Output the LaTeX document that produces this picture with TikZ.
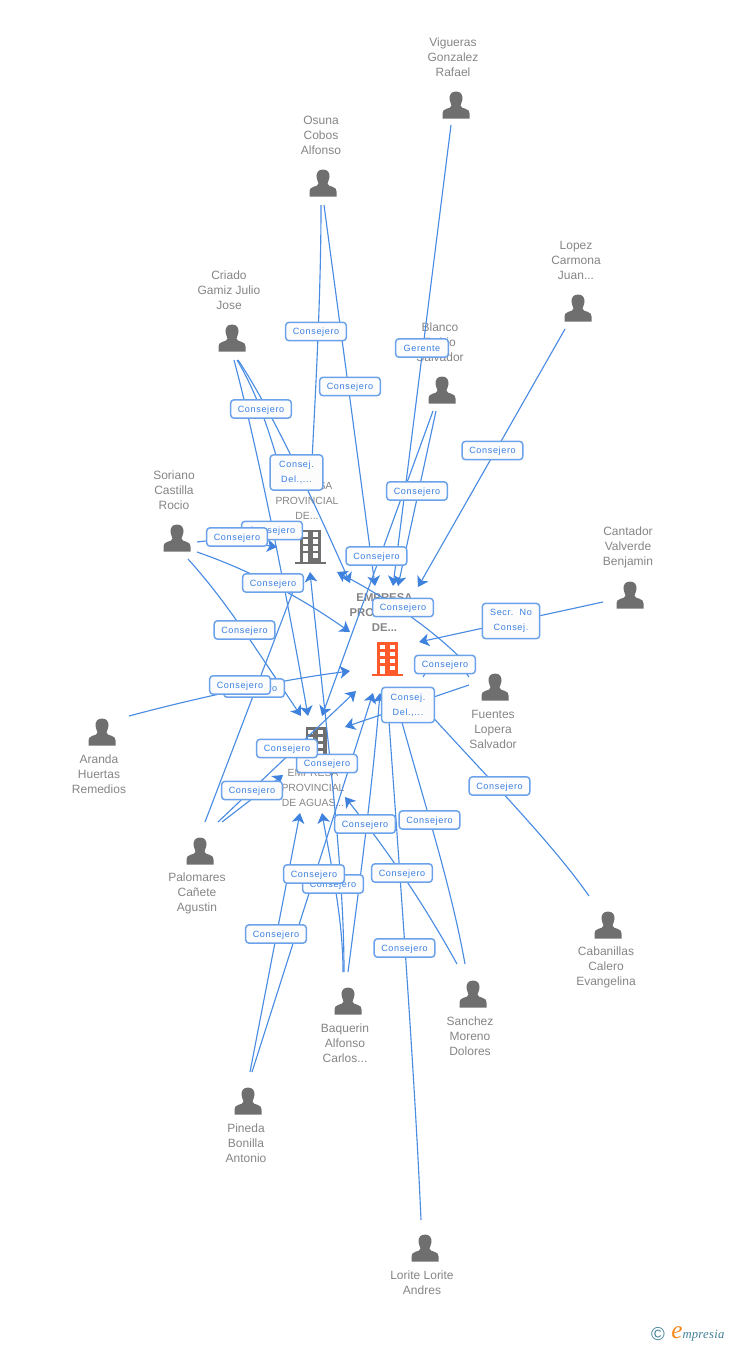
\documentclass[tikz,border=0pt]{standalone}
\usepackage{fontspec}
\setmainfont{Liberation Sans}
\newfontfamily\tagfont[LetterSpace=7]{Liberation Sans}
\newfontfamily\logofont[LetterSpace=2]{Liberation Serif}
\usetikzlibrary{arrows.meta}
\definecolor{nameGrey}{HTML}{858585}
\definecolor{iconGrey}{HTML}{6f6f6f}
\definecolor{towerOrange}{HTML}{ff5a2c}
\definecolor{linkBlue}{HTML}{4a8ce2}
\definecolor{tipBlue}{HTML}{3f82de}
\definecolor{tagEdge}{HTML}{6ba2ea}
\definecolor{tagText}{HTML}{3b80e0}
\definecolor{tagFill}{HTML}{fcfcfd}
\definecolor{logoTeal}{HTML}{3f7f96}
\definecolor{logoOrange}{HTML}{f58a1f}

\begin{document}
\begin{tikzpicture}[
    x=0.75pt, y=-0.75pt,
    every node/.style={font=\fontsize{9}{11.25}\selectfont},
    pname/.style={color=nameGrey, align=center, inner sep=0pt},
    fname/.style={pname, font=\fontsize{7.8}{11.25}\selectfont},
    cname/.style={pname, font=\fontsize{8.5}{11.25}\selectfont\bfseries},
    link/.style={draw=linkBlue, line width=0.85pt,
                 -{Stealth[length=7.5pt,width=9.5pt,inset=2pt,color=tipBlue]}},
    plainlink/.style={draw=linkBlue, line width=0.85pt},
    tag/.style={draw=tagEdge, line width=1.1pt, fill=tagFill, rounded corners=2.5pt,
                text=tagText, font=\fontsize{6.8}{11.25}\selectfont\tagfont,
                align=center, inner sep=0pt, minimum width=45.5pt, minimum height=13.8pt,
                text height=6.3pt, text depth=1.3pt},
    tagwide/.style={tag, text height=, text depth=,
                    minimum width=39.5pt, minimum height=26.5pt},
    man/.pic={
      \fill[iconGrey] (0,-13.5) .. controls (4.8,-13.5) and (6.8,-10) .. (6.5,-6)
        .. controls (6.3,-3) and (4.8,-1.5) .. (4.5,0.5)
        .. controls (4.5,2.5) and (7,3) .. (9.5,3.8)
        .. controls (12.5,4.8) and (13.5,6) .. (13.5,8.5) -- (13.5,13.5) -- (-13.5,13.5) -- (-13.5,8.5)
        .. controls (-13.5,6) and (-12.5,4.8) .. (-9.5,3.8)
        .. controls (-7,3) and (-4.5,2.5) .. (-4.5,0.5)
        .. controls (-4.8,-1.5) and (-6.3,-3) .. (-6.5,-6)
        .. controls (-6.8,-10) and (-4.8,-13.5) .. (0,-13.5) -- cycle;
    },
    tower/.pic={
      \path[pic actions] (-10.5,-17) rectangle (10.5,15);
      \path[pic actions] (-15.5,15) rectangle (15.5,17);
      \foreach \wy in {-12,-5,2,9}{
        \fill[white] (2,\wy-2.2) rectangle (7,\wy+2.2);
      }
      \foreach \wy in {-12,-5,2}{
        \fill[white] (-8,\wy-2.2) rectangle (-3,\wy+2.2);
      }
      \fill[white] (-8,6.5) rectangle (-3,15);
    },
    ]

\path[use as bounding box] (0,0) rectangle (728,1345);

% ====================================================================
% Names
% ====================================================================
\node[pname] (vigueras) at (453,57) {Vigueras\\Gonzalez\\Rafael};
\node[pname] (osuna) at (321,135) {Osuna\\Cobos\\Alfonso};
\node[pname] (lopez) at (576,260) {Lopez\\Carmona\\Juan...};
\node[pname] (criado) at (229,290) {Criado\\Gamiz Julio\\Jose};
\node[pname] (blanco) at (440,342) {Blanco\\Rubio\\Salvador};
\node[pname] (soriano) at (174,490) {Soriano\\Castilla\\Rocio};
\node[pname] (cantador) at (628,547) {Cantador\\Valverde\\Benjamin};
\node[pname] (fuentes) at (493,729) {Fuentes\\Lopera\\Salvador};
\node[pname] (aranda) at (99,774) {Aranda\\Huertas\\Remedios};
\node[pname] (palomares) at (197,893) {Palomares\\Cañete\\Agustin};
\node[pname] (cabanillas) at (606,967) {Cabanillas\\Calero\\Evangelina};
\node[pname] (sanchez) at (470,1036) {Sanchez\\Moreno\\Dolores};
\node[pname] (baquerin) at (345,1043) {Baquerin\\Alfonso\\Carlos...};
\node[pname] (pineda) at (246,1143) {Pineda\\Bonilla\\Antonio};
\node[pname] (lorite) at (422,1282.5) {Lorite Lorite\\Andres};

% Company names
\node[fname] (upperName) at (307,501) {EMPRESA\\PROVINCIAL\\DE...};
\node[fname] (lowerName) at (313,788) {EMPRESA\\PROVINCIAL\\DE AGUAS...};
\node[cname] (mainName) at (384.5,613) {EMPRESA\\PROVINCIAL\\DE...};

% ====================================================================
% Icons
% ====================================================================
\pic at (456,105) {man};
\pic at (323,183) {man};
\pic at (578,308) {man};
\pic at (232,338) {man};
\pic at (442,390) {man};
\pic at (177,538) {man};
\pic at (630,595) {man};
\pic at (495,687) {man};
\pic at (102,732) {man};
\pic at (200,851) {man};
\pic at (608,925) {man};
\pic at (473,994) {man};
\pic at (348,1001) {man};
\pic at (248,1101) {man};
\pic at (425,1248) {man};

\pic[fill=iconGrey] at (310.5,546.5) {tower};
\pic[fill=iconGrey] at (316,744) {tower};
\pic[fill=towerOrange] at (387.5,659) {tower};

% ====================================================================
% Arrow ends
% ====================================================================
\coordinate (upperA) at (277,547);
\coordinate (upperB) at (300,573);
\coordinate (upperC) at (310,572);
\coordinate (upperD) at (337,572);
\coordinate (lowerA) at (301,716);
\coordinate (lowerB) at (308,716);
\coordinate (lowerC) at (322,716);
\coordinate (lowerD) at (345,727);
\coordinate (lowerE) at (283,775);
\coordinate (lowerF) at (300,813);
\coordinate (lowerG) at (322,813);
\coordinate (lowerH) at (345,797);
\coordinate (mainA) at (350,583);
\coordinate (mainB) at (375,586);
\coordinate (mainC) at (393,586);
\coordinate (mainD) at (398,586);
\coordinate (mainE) at (418,587);
\coordinate (mainF) at (419,642);
\coordinate (mainG) at (350,632);
\coordinate (mainH) at (350,671);
\coordinate (mainI) at (356,691);
\coordinate (mainJ) at (373,693);
\coordinate (mainK) at (380,693);
\coordinate (mainL) at (387,693);
\coordinate (mainM) at (394,693);
\coordinate (mainN) at (410,692);

% ====================================================================
% Free ends at the people
% ====================================================================
\coordinate (viguerasOut) at (451,125);
\coordinate (osunaOutA) at (324,205);
\coordinate (osunaOutB) at (321,205);
\coordinate (criadoOutA) at (234,360);
\coordinate (criadoOutB) at (237,360);
\coordinate (criadoOutC) at (238,360);
\coordinate (lopezOut) at (565,329);
\coordinate (blancoOutA) at (436,411);
\coordinate (blancoOutB) at (433,411);
\coordinate (sorianoOutA) at (197,542);
\coordinate (sorianoOutB) at (197,552);
\coordinate (sorianoOutC) at (188,559);
\coordinate (cantadorOut) at (603,602);
\coordinate (fuentesOutA) at (469,685);
\coordinate (fuentesOutB) at (470,668);
\coordinate (fuentesOutC) at (469,677);
\coordinate (arandaOut) at (129,716);
\coordinate (palomaresOutA) at (205,822);
\coordinate (palomaresOutB) at (218,822);
\coordinate (palomaresOutC) at (222,822);
\coordinate (cabanillasOut) at (589,896);
\coordinate (sanchezOutA) at (465,964);
\coordinate (sanchezOutB) at (457,964);
\coordinate (baquerinOutA) at (343,972);
\coordinate (baquerinOutB) at (344,972);
\coordinate (baquerinOutC) at (348,972);
\coordinate (pinedaOutA) at (250,1072);
\coordinate (pinedaOutB) at (252,1072);
\coordinate (loriteOut) at (421,1220);

% ====================================================================
% Connectors
% ====================================================================
\draw[link] (viguerasOut) -- (mainC);
\draw[link] (osunaOutA) -- (mainB);
\draw[plainlink] (osunaOutB) .. controls (321,300) and (315,400) .. (311,480);
\draw[link] (criadoOutA) .. controls (250,420) and (277,540) .. (lowerB);
\draw[plainlink] (criadoOutB) .. controls (255,390) and (268,425) .. (283,480);
\draw[link] (criadoOutC) .. controls (262,395) and (300,470) .. (mainA);
\draw[link] (lopezOut) -- (mainE);
\draw[link] (blancoOutA) -- (mainD);
\draw[link] (blancoOutB) -- (lowerC);
\draw[link] (sorianoOutA) .. controls (225,538) and (250,543) .. (upperA);
\draw[link] (sorianoOutB) .. controls (240,567) and (290,590) .. (mainG);
\draw[link] (sorianoOutC) .. controls (225,600) and (250,640) .. (lowerA);
\draw[link] (cantadorOut) -- (mainF);
\draw[link] (fuentesOutA) -- (lowerD);
\draw[link] (fuentesOutB) .. controls (445,640) and (400,605) .. (upperD);
\draw[plainlink] (fuentesOutC) .. controls (455,655) and (435,655) .. (423,677);
\draw[link] (arandaOut) .. controls (200,697) and (280,680) .. (mainH);
\draw[link] (palomaresOutA) -- (upperB);
\draw[link] (palomaresOutB) -- (mainI);
\draw[link] (palomaresOutC) -- (lowerE);
\draw[link] (cabanillasOut) .. controls (550,840) and (480,770) .. (mainN);
\draw[link] (sanchezOutA) .. controls (450,880) and (420,790) .. (mainM);
\draw[link] (sanchezOutB) .. controls (430,915) and (395,860) .. (lowerH);
\draw[link] (baquerinOutA) .. controls (343,920) and (332,870) .. (lowerG);
\draw[link] (baquerinOutB) .. controls (344,860) and (325,720) .. (upperC);
\draw[link] (baquerinOutC) .. controls (360,880) and (372,790) .. (mainK);
\draw[link] (pinedaOutA) -- (lowerF);
\draw[link] (pinedaOutB) -- (mainJ);
\draw[link] (loriteOut) .. controls (414,1060) and (398,850) .. (mainL);

% ====================================================================
% Tags
% ====================================================================
\node[tag] (tagOsunaB) at (316,331.5) {Consejero};
\node[tag] (tagOsunaA) at (350,386.5) {Consejero};
\node[tag, minimum width=39.5pt] (tagVigueras) at (422,348) {Gerente};
\node[tag] (tagCriadoA) at (261,409) {Consejero};
\node[tag] (tagLopez) at (492.5,450.5) {Consejero};
\node[tagwide] (tagCriadoC) at (296.5,472.5) {Consej.\\Del.,...};
\node[tag] (tagBlancoA) at (417,491) {Consejero};
\node[tag] (tagCriadoB) at (272,530.5) {Consejero};
\node[tag] (tagSorianoA) at (237,537) {Consejero};
\node[tag] (tagBlancoB) at (376.5,556) {Consejero};
\node[tag] (tagSorianoB) at (273,583) {Consejero};
\node[tag] (tagFuentesB) at (403,607.5) {Consejero};
\node[tagwide, minimum width=43pt] (tagCantador) at (511,621) {Secr.~~No\\Consej.};
\node[tag] (tagSorianoC) at (244.5,630) {Consejero};
\node[tag] (tagFuentesC) at (445,664.5) {Consejero};
\node[tag] (tagPalomaresA) at (254,688) {Consejero};
\node[tag] (tagAranda) at (240,685) {Consejero};
\node[tagwide] (tagFuentesA) at (408,705) {Consej.\\Del.,...};
\node[tag] (tagBaquerinB) at (327,763.5) {Consejero};
\node[tag] (tagPalomaresB) at (287,748.5) {Consejero};
\node[tag] (tagPalomaresC) at (252,790.5) {Consejero};
\node[tag] (tagCabanillas) at (499.5,786) {Consejero};
\node[tag] (tagSanchezA) at (429.5,820) {Consejero};
\node[tag] (tagBaquerinC) at (365,824) {Consejero};
\node[tag] (tagSanchezB) at (402,873) {Consejero};
\node[tag] (tagBaquerinA) at (333,884) {Consejero};
\node[tag] (tagPinedaB) at (314,874) {Consejero};
\node[tag] (tagPinedaA) at (276,934) {Consejero};
\node[tag] (tagLorite) at (404.5,948) {Consejero};

% Logo
\node[inner sep=0pt, text=logoTeal, font=\fontsize{14}{14}\selectfont] (logoC) at (658,1334) {©};
\node[inner sep=0pt, anchor=base west, text=logoTeal, font=\fontsize{9.5}{11}\selectfont\logofont\itshape]
  (logoT) at (671,1338) {{\color{logoOrange}\fontsize{19}{19}\selectfont e}mpresia};

\end{tikzpicture}
\end{document}
